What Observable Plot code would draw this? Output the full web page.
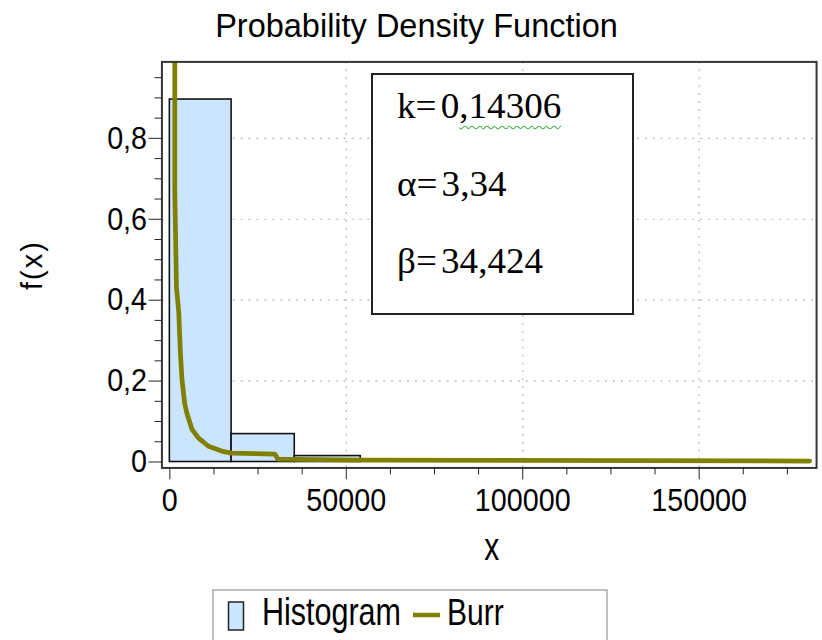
<!DOCTYPE html>
<html><head><meta charset="utf-8">
<script src="https://cdn.jsdelivr.net/npm/d3@7"></script>
<script src="https://cdn.jsdelivr.net/npm/@observablehq/plot@0.6"></script>
<style>
html,body{margin:0;padding:0;background:#fff;overflow:hidden;}
#wrap{position:relative;width:822px;height:640px;overflow:hidden;}
#chart{position:absolute;left:0;top:0;}
#overlay{position:absolute;left:0;top:0;pointer-events:none;}
#anno{position:absolute;left:371px;top:73px;width:259px;height:238px;border:2px solid #222;background:#fff;font-family:"Liberation Serif","Times New Roman",serif;font-size:35px;color:#000;}
#anno .ln{position:absolute;left:24px;line-height:1;white-space:nowrap;transform:scaleX(1.06);transform-origin:0 0;}
#anno .gap{display:inline-block;width:4px;}
.sq{text-decoration:underline wavy #3cb043;text-decoration-thickness:1px;text-underline-offset:7px;}
</style></head><body>
<div id="wrap">
  <div id="chart"></div>
  <svg id="overlay" width="822" height="640"></svg>
  <div id="anno">
    <div class="ln" style="top:14px">k=<span class="gap"></span>0<span class="sq">,14306</span></div>
    <div class="ln" style="top:92px">&#945;=<span class="gap"></span>3,34</div>
    <div class="ln" style="top:169px">&#946;=<span class="gap"></span>34,424</div>
  </div>
</div>
<script>
// ---- data ----
const binLeft = [0, 17500, 35400];
const binRight = [17500, 35400, 54100];
const binDensity = [0.896, 0.069, 0.0147];

const burrX = [1400, 1403, 1880, 2526, 3003, 3452, 4210, 4856, 6259, 8139, 10946, 14679, 17401, 29750, 30592, 53887, 181308];
const burrY = [1.10, 0.668, 0.431, 0.370, 0.267, 0.203, 0.144, 0.120, 0.081, 0.059, 0.039, 0.027, 0.022, 0.0196, 0.0073, 0.0049, 0.0024];

const xMajorTicks = [0, 50000, 100000, 150000];
const xTickLabels = ["0", "50000", "100000", "150000"];
const xMinorTicks = [12500, 25000, 37500, 62500, 75000, 87500, 112500, 125000, 137500, 162500, 175000];
const xGridTicks = [50000, 100000, 150000];

const yMajorTicks = [0, 0.2, 0.4, 0.6, 0.8];
const yTickLabels = ["0", "0,2", "0,4", "0,6", "0,8"];
const yMinorTicks = [0.05, 0.1, 0.15, 0.25, 0.3, 0.35, 0.45, 0.5, 0.55, 0.65, 0.7, 0.75, 0.85, 0.9, 0.95];
const yGridTicks = [0.2, 0.4, 0.6, 0.8];

const titleText = "Probability Density Function";
const xLabel = "x";
const yLabel = "f(x)";
const legendLabels = ["Histogram", "Burr"];

// ---- build tables ----
const bins = binLeft.map((d, i) => ({x0: d, x1: binRight[i], density: binDensity[i]}));
const burr = burrX.map((d, i) => ({x: d, y: burrY[i]}));

const chart = Plot.plot({
  width: 830, height: 580,
  marginLeft: 163, marginRight: 6, marginTop: 62, marginBottom: 108,
  style: {fontFamily: '"Liberation Sans", Arial, sans-serif', fontSize: "29px", color: "#222", background: "transparent", overflow: "visible"},
  x: {domain: [-2245, 183270], axis: null},
  y: {domain: [-0.0147, 0.989], axis: null},
  marks: [
    Plot.gridX(xGridTicks, {stroke: "#b5b5b5", strokeOpacity: 1, strokeDasharray: "2,6", strokeWidth: 1.2}),
    Plot.gridY(yGridTicks, {stroke: "#b5b5b5", strokeOpacity: 1, strokeDasharray: "2,6", strokeWidth: 1.2}),
    Plot.rectY(bins, {x1: "x0", x2: "x1", y: "density", fill: "#cce5ff", stroke: "#111", strokeWidth: 1.6}),
    Plot.line(burr, {x: "x", y: "y", stroke: "#808000", strokeWidth: 4.8, clip: true}),
    Plot.frame({stroke: "#333", strokeWidth: 2}),
    Plot.axisX(xMajorTicks, {tickSize: 12, tickPadding: 8, tickFormat: (d, i) => xTickLabels[i], label: null, fill: "#000"}),
    Plot.axisX(xMinorTicks, {tickSize: 7, tickFormat: () => "", label: null}),
    Plot.axisY(yMajorTicks, {tickSize: 13, tickPadding: 2, tickFormat: (d, i) => yTickLabels[i], label: null, fill: "#000"}),
    Plot.axisY(yMinorTicks, {tickSize: 7, tickFormat: () => "", label: null})
  ]
});
document.getElementById("chart").appendChild(chart);

// slight vertical stretch of tick labels, as in the reference
chart.querySelectorAll('g[aria-label$="tick label"] text').forEach(t => {
  const tr = t.getAttribute("transform") || "";
  t.setAttribute("transform", tr + " scale(1,1.12)");
});

// ---- overlay: title, axis labels, legend ----
const ov = d3.select("#overlay");
const ff = '"Liberation Sans", Arial, sans-serif';
ov.append("text").text(titleText)
  .attr("transform", "translate(416.5,36.7) scale(1,1.04)")
  .attr("text-anchor", "middle").attr("font-family", ff).attr("font-size", 32.5).attr("fill", "#000");
ov.append("text").text(xLabel)
  .attr("transform", "translate(491.7,560) scale(1,1.3)")
  .attr("text-anchor", "middle").attr("font-family", ff).attr("font-size", 30).attr("fill", "#000");
ov.append("text").text(yLabel)
  .attr("transform", "translate(42,265) rotate(-90)")
  .attr("text-anchor", "middle").attr("font-family", ff).attr("font-size", 29).attr("letter-spacing", 2).attr("fill", "#000");

const lg = ov.append("g");
lg.append("rect").attr("x", 213).attr("y", 590).attr("width", 394).attr("height", 70)
  .attr("fill", "#fff").attr("stroke", "#aaa").attr("stroke-width", 1.5);
lg.append("rect").attr("x", 228.5).attr("y", 602).attr("width", 15).attr("height", 28)
  .attr("fill", "#cce5ff").attr("stroke", "#222").attr("stroke-width", 1.5);
lg.append("text").text(legendLabels[0])
  .attr("transform", "translate(262,625) scale(1,1.25)")
  .attr("font-family", ff).attr("font-size", 30.5).attr("fill", "#000");
lg.append("line").attr("x1", 413).attr("x2", 440).attr("y1", 615).attr("y2", 615)
  .attr("stroke", "#808000").attr("stroke-width", 4.5);
lg.append("text").text(legendLabels[1])
  .attr("transform", "translate(447,625) scale(1,1.25)")
  .attr("font-family", ff).attr("font-size", 30).attr("fill", "#000");
</script>
</body></html>
